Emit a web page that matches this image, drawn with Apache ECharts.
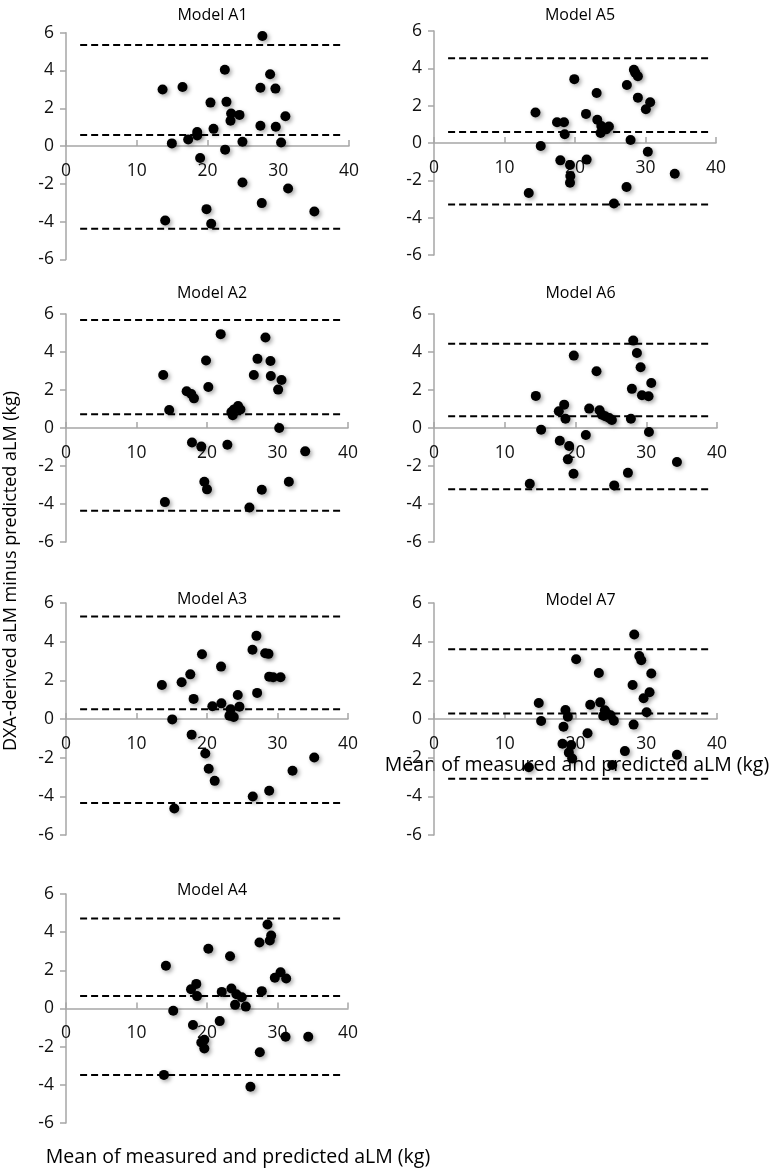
<!DOCTYPE html>
<html><head><meta charset="utf-8">
<script src="https://cdn.jsdelivr.net/npm/echarts@6/dist/echarts.min.js"></script>
<style>html,body{margin:0;padding:0;background:#fff}#c{width:772px;height:1176px}</style>
</head><body><div id="c"></div>
<script>
// ---------- data ----------
const modelNames = ['Model A1','Model A5','Model A2','Model A6','Model A3','Model A7','Model A4'];
const xTickValues = [0, 10, 20, 30, 40];
const yTickValues = [-6, -4, -2, 0, 2, 4, 6];
const limitSpan = [2, 39];
const yAxisTitle = 'DXA-derived aLM minus predicted aLM (kg)';
const xAxisTitle = 'Mean of measured and predicted aLM (kg)';

const xA1 = [13.65,16.47,14.02,14.96,17.27,18.54,18.54,18.96,19.86,20.42,20.52,20.85,22.45,22.68,22.49,23.34,23.25,24.52,24.94,24.94,27.48,27.76,27.48,27.67,28.85,29.6,29.65,30.4,31.01,31.39,35.1];
const yA1 = [2.99,3.13,-3.94,0.14,0.35,0.74,0.56,-0.63,-3.34,2.30,-4.11,0.91,4.04,2.34,-0.19,1.72,1.34,1.65,0.23,-1.93,3.09,5.83,1.07,-3.02,3.80,3.04,1.02,0.19,1.58,-2.25,-3.46];
const limitsA1 = [5.35, 0.58, -4.38];

const xA5 = [14.39,13.44,15.14,17.45,18.44,18.54,17.92,19.29,19.34,19.29,19.9,21.56,21.65,23.07,23.16,23.73,23.63,24.39,24.81,25.52,27.36,27.31,27.88,28.35,28.54,28.92,28.92,30.05,30.66,30.33,34.15];
const yA5 = [1.63,-2.68,-0.16,1.11,1.11,0.47,-0.93,-1.18,-1.77,-2.13,3.42,1.56,-0.89,2.68,1.25,0.91,0.54,0.73,0.88,-3.24,3.11,-2.36,0.16,3.92,3.77,3.58,2.43,1.81,2.18,-0.47,-1.65];
const limitsA5 = [4.54, 0.59, -3.29];

const xA2 = [13.79,14.03,14.64,17.11,17.77,18.15,17.87,19.19,19.62,20.0,19.86,20.19,21.94,22.89,23.46,23.65,23.84,24.41,24.74,26.02,26.64,27.16,27.77,28.29,29.0,29.05,30.09,30.24,30.57,31.61,33.93];
const yA2 = [2.79,-3.90,0.95,1.93,1.79,1.56,-0.76,-0.98,-2.83,-3.23,3.55,2.16,4.94,-0.88,0.84,0.67,0.98,1.16,0.97,-4.18,2.79,3.64,-3.25,4.76,3.53,2.74,2.02,0.0,2.53,-2.83,-1.23];
const limitsA2 = [5.69, 0.72, -4.36];

const xA6 = [14.39,13.54,15.14,17.64,18.4,18.58,17.78,19.1,18.92,19.72,19.76,21.46,21.93,22.97,23.4,23.73,24.2,24.76,25.14,25.47,27.41,27.83,27.97,28.16,28.68,29.2,29.39,30.33,30.38,30.71,34.34];
const yA6 = [1.69,-2.93,-0.09,0.88,1.23,0.49,-0.67,-0.95,-1.65,-2.41,3.81,-0.37,1.02,2.99,0.93,0.70,0.62,0.53,0.42,-3.02,-2.36,0.49,2.06,4.60,3.95,3.20,1.72,1.67,-0.21,2.37,-1.79];
const limitsA6 = [4.43, 0.62, -3.22];

const xA3 = [13.6,15.07,15.36,16.4,17.63,17.82,18.1,19.29,19.76,20.24,20.76,21.09,21.99,22.04,23.36,23.18,23.79,24.36,24.6,26.49,26.45,27.01,27.11,28.25,28.72,28.82,28.82,29.38,30.43,32.13,35.21];
const yA3 = [1.76,-0.02,-4.63,1.90,2.31,-0.81,1.04,3.35,-1.78,-2.57,0.66,-3.20,2.71,0.81,0.50,0.17,0.10,1.24,0.64,-4.01,3.58,4.30,1.35,3.40,3.37,-3.71,2.19,2.16,2.16,-2.68,-1.99];
const limitsA3 = [5.30, 0.50, -4.34];

const xA7 = [14.81,15.14,13.4,18.3,18.16,18.58,18.92,19.39,19.06,19.53,20.09,21.7,22.08,23.3,23.49,23.92,24.15,24.39,24.95,25.42,25.19,26.98,28.07,28.21,28.3,29.01,29.29,29.62,30.05,30.47,30.71,34.34];
const yA7 = [0.83,-0.10,-2.50,-0.40,-1.28,0.47,0.12,-1.35,-1.74,-2.04,3.09,-0.74,0.74,2.38,0.86,0.16,0.45,0.29,0.19,-0.09,-2.38,-1.66,1.76,-0.29,4.37,3.26,3.04,1.07,0.35,1.38,2.35,-1.85];
const limitsA7 = [3.61, 0.29, -3.09];

const xA4 = [14.17,13.89,15.21,17.73,18.48,18.58,18.01,19.19,19.62,19.62,20.19,21.8,22.09,23.27,23.46,24.17,23.98,24.93,25.5,26.16,27.44,27.77,27.49,28.58,29.1,28.91,29.62,30.43,31.23,31.14,34.36];
const yA4 = [2.24,-3.48,-0.12,1.01,1.29,0.65,-0.86,-1.78,-1.64,-2.10,3.13,-0.66,0.87,2.74,1.05,0.75,0.19,0.59,0.10,-4.10,3.46,0.91,-2.29,4.40,3.83,3.56,1.61,1.90,1.57,-1.48,-1.48];
const limitsA4 = [4.72, 0.66, -3.48];

const panelData = [
  [xA1, yA1, limitsA1], [xA5, yA5, limitsA5],
  [xA2, yA2, limitsA2], [xA6, yA6, limitsA6],
  [xA3, yA3, limitsA3], [xA7, yA7, limitsA7],
  [xA4, yA4, limitsA4]
];

// ---------- layout ----------
const grids = [
  {left: 66, top: 32.7, width: 283, height: 226.7},
  {left: 434, top: 31, width: 282, height: 224},
  {left: 66, top: 314, width: 282, height: 228},
  {left: 434, top: 314, width: 283, height: 228},
  {left: 66, top: 603, width: 282, height: 232},
  {left: 434, top: 603, width: 283, height: 232},
  {left: 66, top: 894, width: 282, height: 229}
];
const titleY = [12, 12, 290, 290, 596, 597, 887];

const FONT = '"Open Sans", "Noto Sans", sans-serif';
const axisGray = '#a6a6a6';

const option = {
  animation: false,
  backgroundColor: '#ffffff',
  title: [], grid: [], xAxis: [], yAxis: [], series: [],
  graphic: [
    {type: 'text', x: 11, y: 571, rotation: Math.PI / 2,
     style: {text: yAxisTitle, font: '18px ' + FONT, fill: '#000', textAlign: 'center', textVerticalAlign: 'middle'}},
    {type: 'text', x: 238, y: 1157,
     style: {text: xAxisTitle, font: '19.5px ' + FONT, fill: '#000', textAlign: 'center', textVerticalAlign: 'middle'}},
    {type: 'text', x: 577, y: 765,
     style: {text: xAxisTitle, font: '19.5px ' + FONT, fill: '#000', textAlign: 'center', textVerticalAlign: 'middle'}}
  ]
};

panelData.forEach((pd, i) => {
  const g = grids[i];
  option.grid.push({left: g.left, top: g.top, width: g.width, height: g.height, containLabel: false});
  option.title.push({
    text: modelNames[i], left: g.left + g.width / 2, top: titleY[i] - 10, textAlign: 'center',
    textStyle: {fontFamily: FONT, fontSize: 16, fontWeight: 'normal', color: '#000'}
  });
  const yMin = yTickValues[0], yMax = yTickValues[yTickValues.length - 1];
  // place the x axis at y = 0 by shifting it up from the grid bottom
  const zeroOffset = -g.height * (0 - yMin) / (yMax - yMin);
  option.xAxis.push({
    type: 'value', gridIndex: i, min: xTickValues[0], max: xTickValues[xTickValues.length - 1],
    interval: xTickValues[1] - xTickValues[0], position: 'bottom', offset: zeroOffset,
    axisLine: {onZero: false, lineStyle: {color: axisGray, width: 1.5}},
    axisTick: {show: true, inside: true, length: 6, lineStyle: {color: axisGray, width: 1.5}},
    axisLabel: {fontFamily: FONT, fontSize: 17.5, color: '#111', margin: 16},
    splitLine: {show: false}
  });
  option.yAxis.push({
    type: 'value', gridIndex: i, min: yMin, max: yMax,
    interval: yTickValues[1] - yTickValues[0],
    axisLine: {show: true, onZero: false, lineStyle: {color: axisGray, width: 1.5}},
    axisTick: {show: true, length: 6, lineStyle: {color: axisGray, width: 1.5}},
    axisLabel: {fontFamily: FONT, fontSize: 17.5, color: '#111', margin: 12},
    splitLine: {show: false}
  });
  const [xs, ys, lims] = pd;
  lims.forEach(v => {
    option.series.push({
      type: 'line', xAxisIndex: i, yAxisIndex: i, showSymbol: false, silent: true,
      data: [[limitSpan[0], v], [limitSpan[1], v]],
      lineStyle: {color: '#000', width: 2, type: [7, 4]}, z: 2
    });
  });
  option.series.push({
    type: 'scatter', xAxisIndex: i, yAxisIndex: i, symbol: 'circle', symbolSize: 10,
    data: xs.map((x, k) => [x, ys[k]]),
    itemStyle: {color: '#000', opacity: 1, shadowBlur: 4, shadowColor: 'rgba(0,0,0,0.35)', shadowOffsetX: 2, shadowOffsetY: 2},
    z: 3
  });
});

const chart = echarts.init(document.getElementById('c'), null, {renderer: 'canvas'});
chart.setOption(option);
</script>
</body></html>
